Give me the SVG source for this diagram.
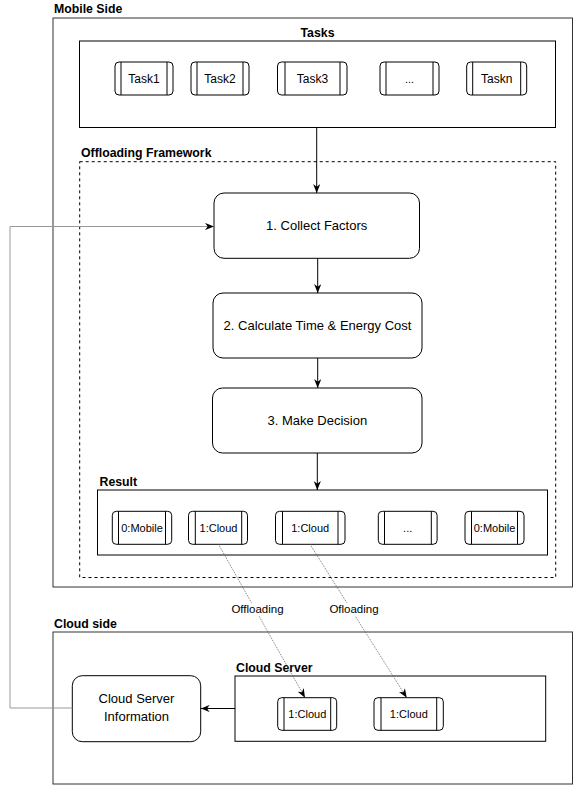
<svg xmlns="http://www.w3.org/2000/svg" width="573" height="787" viewBox="0 0 573 787">
<defs>
<marker id="arr" viewBox="0 0 10 8" refX="10" refY="4" markerWidth="9" markerHeight="7.5" orient="auto" markerUnits="userSpaceOnUse">
<path d="M0,0 L10,4 L0,8 L3,4 z" fill="#000"/>
</marker>
<style>
.lbl{font-family:"Liberation Sans",Arial,sans-serif;font-weight:bold;font-size:12.3px;fill:#000}
.txt{font-family:"Liberation Sans",Arial,sans-serif;font-size:13px;fill:#000;text-anchor:middle}
.tt{font-family:"Liberation Sans",Arial,sans-serif;font-size:12px;fill:#000;text-anchor:middle}
.st{font-family:"Liberation Sans",Arial,sans-serif;font-size:11px;fill:#000;text-anchor:middle}
.el{font-family:"Liberation Sans",Arial,sans-serif;font-size:11.5px;fill:#000;text-anchor:middle}
.cont{fill:#fff;stroke:#333;stroke-width:1}
.box{fill:#fff;stroke:#000;stroke-width:1}
.rbox{fill:#fff;stroke:#000;stroke-width:1}
.proc{fill:#fff;stroke:#000;stroke-width:1}
.pl{stroke:#000;stroke-width:1}
.conn{fill:none;stroke:#000;stroke-width:1}
.gray{fill:none;stroke:#999;stroke-width:1}
.dot{fill:none;stroke:#555;stroke-width:0.8;stroke-dasharray:1 1}
</style>
</defs>

<g id="mobile-side">
<rect class="cont" x="53" y="18" width="519.5" height="569"/>
<text class="lbl" x="54" y="13">Mobile Side</text>
</g>

<g id="cloud-side">
<rect class="cont" x="53" y="632" width="519.5" height="152"/>
<text class="lbl" x="54" y="628">Cloud side</text>
</g>

<g id="tasks">
<rect class="box" x="79.5" y="41" width="476" height="86.5"/>
<text class="lbl" x="317.5" y="36.5" text-anchor="middle">Tasks</text>
</g>
<g id="task1">
<rect class="proc" x="115" y="62" width="58" height="33" rx="4"/>
<line class="pl" x1="121" y1="62" x2="121" y2="95"/><line class="pl" x1="167" y1="62" x2="167" y2="95"/>
<text class="tt" x="144" y="83">Task1</text>
</g>
<g id="task2">
<rect class="proc" x="191" y="62" width="58" height="33" rx="4"/>
<line class="pl" x1="197" y1="62" x2="197" y2="95"/><line class="pl" x1="243" y1="62" x2="243" y2="95"/>
<text class="tt" x="220" y="83">Task2</text>
</g>
<g id="task3">
<rect class="proc" x="277.5" y="62" width="69.5" height="33" rx="4"/>
<line class="pl" x1="285" y1="62" x2="285" y2="95"/><line class="pl" x1="340" y1="62" x2="340" y2="95"/>
<text class="tt" x="312.5" y="83">Task3</text>
</g>
<g id="task-more">
<rect class="proc" x="380" y="62" width="59" height="33" rx="4"/>
<line class="pl" x1="386" y1="62" x2="386" y2="95"/><line class="pl" x1="433" y1="62" x2="433" y2="95"/>
<text class="st" x="409.5" y="83">...</text>
</g>
<g id="taskn">
<rect class="proc" x="466.7" y="62" width="60" height="33" rx="4"/>
<line class="pl" x1="472.7" y1="62" x2="472.7" y2="95"/><line class="pl" x1="520.7" y1="62" x2="520.7" y2="95"/>
<text class="tt" x="496.7" y="83">Taskn</text>
</g>

<g id="offloading-framework">
<rect x="79.7" y="161.7" width="476" height="415.8" fill="none" stroke="#000" stroke-width="1" stroke-dasharray="3 3"/>
<text class="lbl" x="81" y="157">Offloading Framework</text>
</g>

<g id="collect">
<rect class="rbox" x="214" y="193" width="205.5" height="65.3" rx="10"/>
<text class="txt" x="316.7" y="230">1. Collect Factors</text>
</g>
<g id="calculate">
<rect class="rbox" x="213" y="293" width="209" height="65" rx="10"/>
<text class="txt" x="317.5" y="330">2. Calculate Time &amp; Energy Cost</text>
</g>
<g id="decision">
<rect class="rbox" x="212.5" y="388" width="209.5" height="65" rx="10"/>
<text class="txt" x="317.3" y="425">3. Make Decision</text>
</g>

<g id="result">
<rect class="box" x="97.5" y="490" width="450" height="65"/>
<text class="lbl" x="99.5" y="485.5">Result</text>
</g>
<g id="r1">
<rect class="proc" x="112.3" y="511.3" width="59.4" height="33" rx="4"/>
<line class="pl" x1="118.5" y1="511.3" x2="118.5" y2="544.3"/><line class="pl" x1="165.5" y1="511.3" x2="165.5" y2="544.3"/>
<text class="st" x="142" y="531.5">0:Mobile</text>
</g>
<g id="r2">
<rect class="proc" x="188.5" y="511.3" width="59" height="33" rx="4"/>
<line class="pl" x1="195.3" y1="511.3" x2="195.3" y2="544.3"/><line class="pl" x1="241.7" y1="511.3" x2="241.7" y2="544.3"/>
<text class="st" x="218.5" y="531.5">1:Cloud</text>
</g>
<g id="r3">
<rect class="proc" x="275.5" y="511.3" width="69.5" height="33" rx="4"/>
<line class="pl" x1="282.5" y1="511.3" x2="282.5" y2="544.3"/><line class="pl" x1="338" y1="511.3" x2="338" y2="544.3"/>
<text class="st" x="310.2" y="531.5">1:Cloud</text>
</g>
<g id="r4">
<rect class="proc" x="378.3" y="511.3" width="58.8" height="33" rx="4"/>
<line class="pl" x1="384.5" y1="511.3" x2="384.5" y2="544.3"/><line class="pl" x1="431.3" y1="511.3" x2="431.3" y2="544.3"/>
<text class="st" x="407.7" y="531.5">...</text>
</g>
<g id="r5">
<rect class="proc" x="465" y="511.3" width="59" height="33" rx="4"/>
<line class="pl" x1="471.5" y1="511.3" x2="471.5" y2="544.3"/><line class="pl" x1="517.5" y1="511.3" x2="517.5" y2="544.3"/>
<text class="st" x="494.5" y="531.5">0:Mobile</text>
</g>

<g id="cloud-server-info">
<rect class="rbox" x="72.3" y="675.7" width="128.4" height="66" rx="10"/>
<text class="txt" x="136.5" y="703">Cloud Server</text>
<text class="txt" x="136.5" y="721">Information</text>
</g>

<g id="cloud-server">
<rect class="box" x="235" y="676" width="310.7" height="65.3"/>
<text class="lbl" x="236" y="672">Cloud Server</text>
</g>
<g id="c1">
<rect class="proc" x="277.7" y="697.7" width="59" height="32.6" rx="4"/>
<line class="pl" x1="284" y1="697.7" x2="284" y2="730.3"/><line class="pl" x1="330.7" y1="697.7" x2="330.7" y2="730.3"/>
<text class="st" x="307.3" y="718">1:Cloud</text>
</g>
<g id="c2">
<rect class="proc" x="374" y="697.7" width="69.3" height="32.6" rx="4"/>
<line class="pl" x1="381" y1="697.7" x2="381" y2="730.3"/><line class="pl" x1="436.7" y1="697.7" x2="436.7" y2="730.3"/>
<text class="st" x="408.8" y="718">1:Cloud</text>
</g>

<g id="connectors">
<line class="conn" x1="316.7" y1="127.5" x2="316.7" y2="193" marker-end="url(#arr)"/>
<line class="conn" x1="317.7" y1="258.3" x2="317.7" y2="293" marker-end="url(#arr)"/>
<line class="conn" x1="317.7" y1="358" x2="317.7" y2="388" marker-end="url(#arr)"/>
<line class="conn" x1="317.3" y1="453" x2="317.3" y2="490" marker-end="url(#arr)"/>
<line class="dot" x1="218.5" y1="544.3" x2="305" y2="697.7" marker-end="url(#arr)"/>
<line class="dot" x1="310" y1="544.3" x2="406.7" y2="697.7" marker-end="url(#arr)"/>
<line class="conn" x1="235" y1="708.5" x2="200.7" y2="708.5" marker-end="url(#arr)"/>
<polyline class="gray" points="72.3,708 10,708 10,226.5 214,226.5" marker-end="url(#arr)"/>
<rect x="231" y="603" width="54" height="13" fill="#fff"/>
<text class="el" x="257.5" y="613">Offloading</text>
<rect x="329" y="603" width="50" height="13" fill="#fff"/>
<text class="el" x="354" y="613">Ofloading</text>
</g>
</svg>
